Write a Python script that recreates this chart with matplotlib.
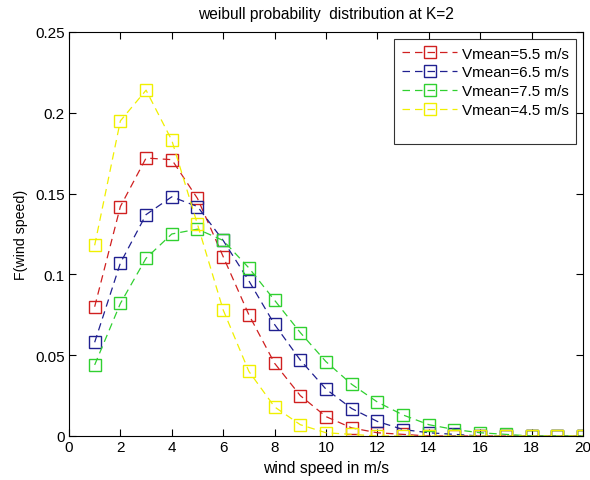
import numpy as np
import matplotlib
matplotlib.use("Agg")
import matplotlib.pyplot as plt
from matplotlib.lines import Line2D

plt.rcParams['font.family'] = ['Liberation Sans', 'DejaVu Sans']

wind_speed = np.arange(1, 21)
f_55 = [0.080, 0.142, 0.172, 0.171, 0.147, 0.111, 0.075, 0.045, 0.025, 0.012,
        0.005, 0.002, 0.001, 0.0, 0.0, 0.0, 0.0, 0.0, 0.0, 0.0]
f_65 = [0.058, 0.107, 0.137, 0.148, 0.142, 0.121, 0.096, 0.069, 0.047, 0.029,
        0.017, 0.009, 0.004, 0.002, 0.001, 0.0, 0.0, 0.0, 0.0, 0.0]
f_75 = [0.044, 0.082, 0.110, 0.125, 0.128, 0.121, 0.104, 0.084, 0.064, 0.046,
        0.032, 0.021, 0.013, 0.007, 0.004, 0.002, 0.001, 0.0, 0.0, 0.0]
f_45 = [0.118, 0.195, 0.214, 0.183, 0.131, 0.078, 0.040, 0.018, 0.007, 0.002,
        0.001, 0.0, 0.0, 0.0, 0.0, 0.0, 0.0, 0.0, 0.0, 0.0]

series = [
    (f_55, '#d02020', 'Vmean=5.5 m/s'),
    (f_65, '#202090', 'Vmean=6.5 m/s'),
    (f_75, '#30d030', 'Vmean=7.5 m/s'),
    (f_45, '#f0f000', 'Vmean=4.5 m/s'),
]

fig = plt.figure(figsize=(5.9, 4.81), dpi=100)
ax = fig.add_axes([0.1169, 0.0915, 0.8712, 0.8399])

for vals, col, lab in series:
    ax.plot(wind_speed, vals, linestyle='--', dashes=(6, 4), color=col, linewidth=0.9,
            marker='s', markersize=9, markerfacecolor='none',
            markeredgecolor=col, markeredgewidth=1.0, label=lab)

ax.set_xlim(0, 20)
ax.set_ylim(0, 0.25)
ax.set_xticks(np.arange(0, 21, 2))
ax.set_yticks([0, 0.05, 0.1, 0.15, 0.2, 0.25])
ax.set_yticklabels(['0', '0.05', '0.1', '0.15', '0.2', '0.25'])
ax.tick_params(direction='in', length=5, labelsize=11, top=True, right=True, pad=3)
for s in ax.spines.values():
    s.set_linewidth(0.8)

ax.set_xlabel('wind speed in m/s', fontsize=11.3, labelpad=4)
ax.set_ylabel('F(wind speed)', fontsize=10.2, labelpad=5)
ax.set_title('weibull probability  distribution at K=2', fontsize=11.2, pad=10)

# matlab legend leaves an empty row at the bottom
handles, labels = ax.get_legend_handles_labels()
handles.append(Line2D([], [], color='none'))
labels.append(' ')
leg = ax.legend(handles, labels, loc='upper right', fontsize=11, frameon=True,
                fancybox=False, edgecolor='black', handlelength=3.6, borderpad=0.5,
                labelspacing=0.32, handletextpad=0.3, borderaxespad=0.45)
leg.get_frame().set_linewidth(0.8)

fig.savefig('out.png', dpi=100)
